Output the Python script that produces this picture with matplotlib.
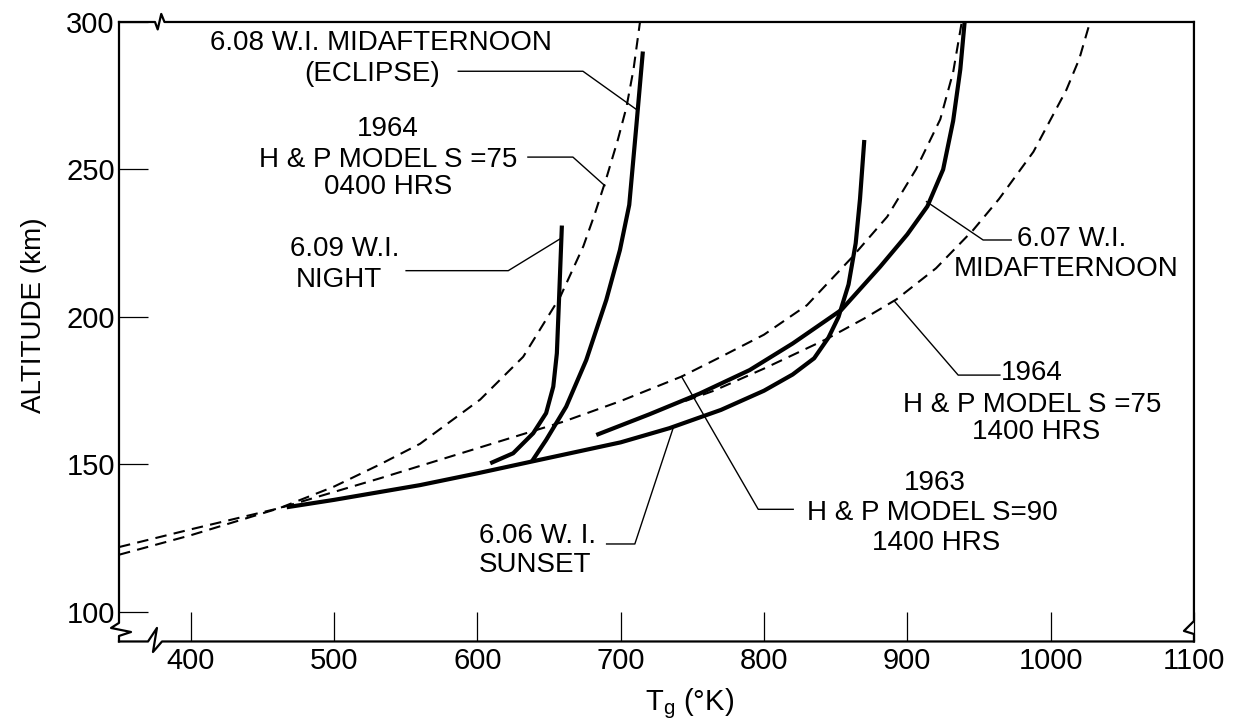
import matplotlib
matplotlib.use("Agg")
import matplotlib.pyplot as plt

plt.rcParams['font.family'] = ['Liberation Sans', 'DejaVu Sans']
plt.rcParams['mathtext.default'] = 'regular'

# ----------------------------------------------------------------------------
# measured profiles (T in deg K, altitude in km)
# ----------------------------------------------------------------------------
sunset_T = [467, 500, 560, 600, 638, 700, 734, 770, 800, 820, 835, 845, 852, 859, 864, 867, 870]
sunset_h = [135.5, 138, 143, 147, 151, 157.5, 162.3, 168.5, 175, 180.5, 186, 193, 200, 211, 225, 240, 260]

midaft_T = [683, 720, 755, 790, 820, 854, 881, 900, 914, 925, 932, 937, 940]
midaft_h = [160, 167, 174, 182, 191, 202.4, 217, 228, 237.5, 250, 266.5, 284, 300]

eclipse_T = [638, 648, 662, 676, 690, 699.5, 706, 711, 715.5]
eclipse_h = [151, 158.3, 169.6, 185.4, 205.8, 222.7, 238, 265, 290]

night_T = [609, 625, 639, 648, 653, 655.5, 657, 659]
night_h = [150.4, 153.8, 160.6, 167.4, 176.4, 187.7, 205.8, 231]

# model profiles (dashed)
hp64_0400_T = [350, 400, 462, 500, 532, 560, 602, 632, 658, 674, 682, 690, 698, 704, 709, 713.5]
hp64_0400_h = [119.4, 126, 135.2, 142.5, 150, 157, 172, 186.5, 207, 224, 235, 247, 260, 271, 284, 300]

hp63_1400_T = [350, 400, 462, 532, 600, 660, 700, 742.5, 770, 800, 830, 861, 886, 906, 923, 932, 938]
hp63_1400_h = [122, 128, 135.2, 145.3, 155.5, 164.5, 171.5, 179.8, 186.5, 194, 204, 220, 234, 250, 267, 283, 300]

hp64_1400_T = [745, 765, 800, 843.6, 870, 892.5, 920, 946, 964, 988, 1011, 1020, 1027.5]
hp64_1400_h = [171.5, 175, 182.5, 192.5, 199.5, 206, 216.5, 229.5, 240, 256, 277, 287.5, 300]

x_ticks = [400, 500, 600, 700, 800, 900, 1000, 1100]
y_ticks = [100, 150, 200, 250, 300]

# ----------------------------------------------------------------------------
# annotation text (label lines, their centres) and leader lines
# ----------------------------------------------------------------------------
labels = [
    ("6.08 W.I. MIDAFTERNOON", 532.7, 292.9),
    ("(ECLIPSE)", 526.5, 282.4),
    ("1964", 537.6, 263.7),
    ("H & P MODEL S =75", 537.6, 253.2),
    ("0400 HRS", 537.6, 244.1),
    ("6.09 W.I.", 507.6, 223.2),
    ("NIGHT", 503.5, 212.5),
    ("6.07 W.I.", 1014.4, 226.4),
    ("MIDAFTERNOON", 1011.0, 216.3),
    ("1964", 986.7, 181.0),
    ("H & P MODEL S =75", 986.9, 170.2),
    ("1400 HRS", 990.2, 161.0),
    ("1963", 919.2, 143.6),
    ("H & P MODEL S=90", 917.5, 133.7),
    ("1400 HRS", 919.9, 123.4),
    ("6.06 W. I.", 642.3, 125.8),
    ("SUNSET", 640.2, 115.9),
]

leaders = [
    ([586.7, 673.7, 712.0], [283.3, 283.3, 270.0]),
    ([635.3, 666.7, 689.0], [254.2, 254.2, 244.5]),
    ([550.3, 621.6, 658.5], [215.7, 215.7, 226.7]),
    ([972.5, 952.9, 913.4], [226.1, 226.1, 239.1]),
    ([964.6, 935.5, 891.3], [180.3, 180.3, 205.2]),
    ([820.4, 796.0, 742.5], [134.8, 134.8, 179.8]),
    ([690.2, 709.9, 736.6], [123.05, 123.05, 162.3]),
]

# ----------------------------------------------------------------------------
# figure
# ----------------------------------------------------------------------------
fig = plt.figure(figsize=(12.37, 7.21), dpi=100)
ax = fig.add_axes([0.0962, 0.1103, 0.8690, 0.8592])

thick = dict(color='black', lw=3.0, solid_capstyle='butt', solid_joinstyle='round')
dash = dict(color='black', lw=1.5, ls=(0, (5.5, 3.5)))

ax.plot(hp64_0400_T, hp64_0400_h, **dash)
ax.plot(hp63_1400_T, hp63_1400_h, **dash)
ax.plot(hp64_1400_T, hp64_1400_h, **dash)

ax.plot(sunset_T, sunset_h, **thick)
ax.plot(midaft_T, midaft_h, **thick)
ax.plot(eclipse_T, eclipse_h, **thick)
ax.plot(night_T, night_h, **thick)

for xs, ys in leaders:
    ax.plot(xs, ys, color='black', lw=1.0)

for txt, x, y in labels:
    ax.text(x, y, txt, ha='center', va='center', fontsize=20)

ax.set_xlim(350, 1100)
ax.set_ylim(90, 300)
ax.set_xticks(x_ticks)
ax.set_yticks(y_ticks)
ax.tick_params(direction='in', length=21, width=0.9, labelsize=21)
ax.tick_params(axis='x', pad=4)
ax.tick_params(axis='y', pad=3)

ax.set_ylabel("ALTITUDE (km)", fontsize=20)
ax.yaxis.set_label_coords(-0.067, 0.527)
ax.set_xlabel("T$_{g}$ (°K)", fontsize=21)
ax.xaxis.set_label_coords(0.531, -0.072)

# frame drawn by hand so the axis-break marks can sit in it
for s in ax.spines.values():
    s.set_visible(False)
frame = dict(color='black', lw=1.6, transform=ax.transAxes, clip_on=False)
# top edge with break near left
ax.plot([0, 0.0335, 0.036, 0.0393, 0.0423, 1.0], [1, 1, 0.988, 1.013, 1, 1], **frame)
# left edge with break near bottom
ax.plot([0, 0, -0.0074, 0.0112, 0, 0], [1, 0.030, 0.0218, 0.0153, 0.0089, 0], **frame)
# bottom edge with break near left
ax.plot([0, 0.027, 0.0353, 0.0316, 0.040, 1.0], [0, 0, 0.0218, -0.017, 0, 0], **frame)
# right edge with break near bottom
ax.plot([1, 1, 0.9907, 1, 1], [1, 0.033, 0.017, 0.012, 0], **frame)

fig.savefig("out.png", dpi=100, facecolor='white')
